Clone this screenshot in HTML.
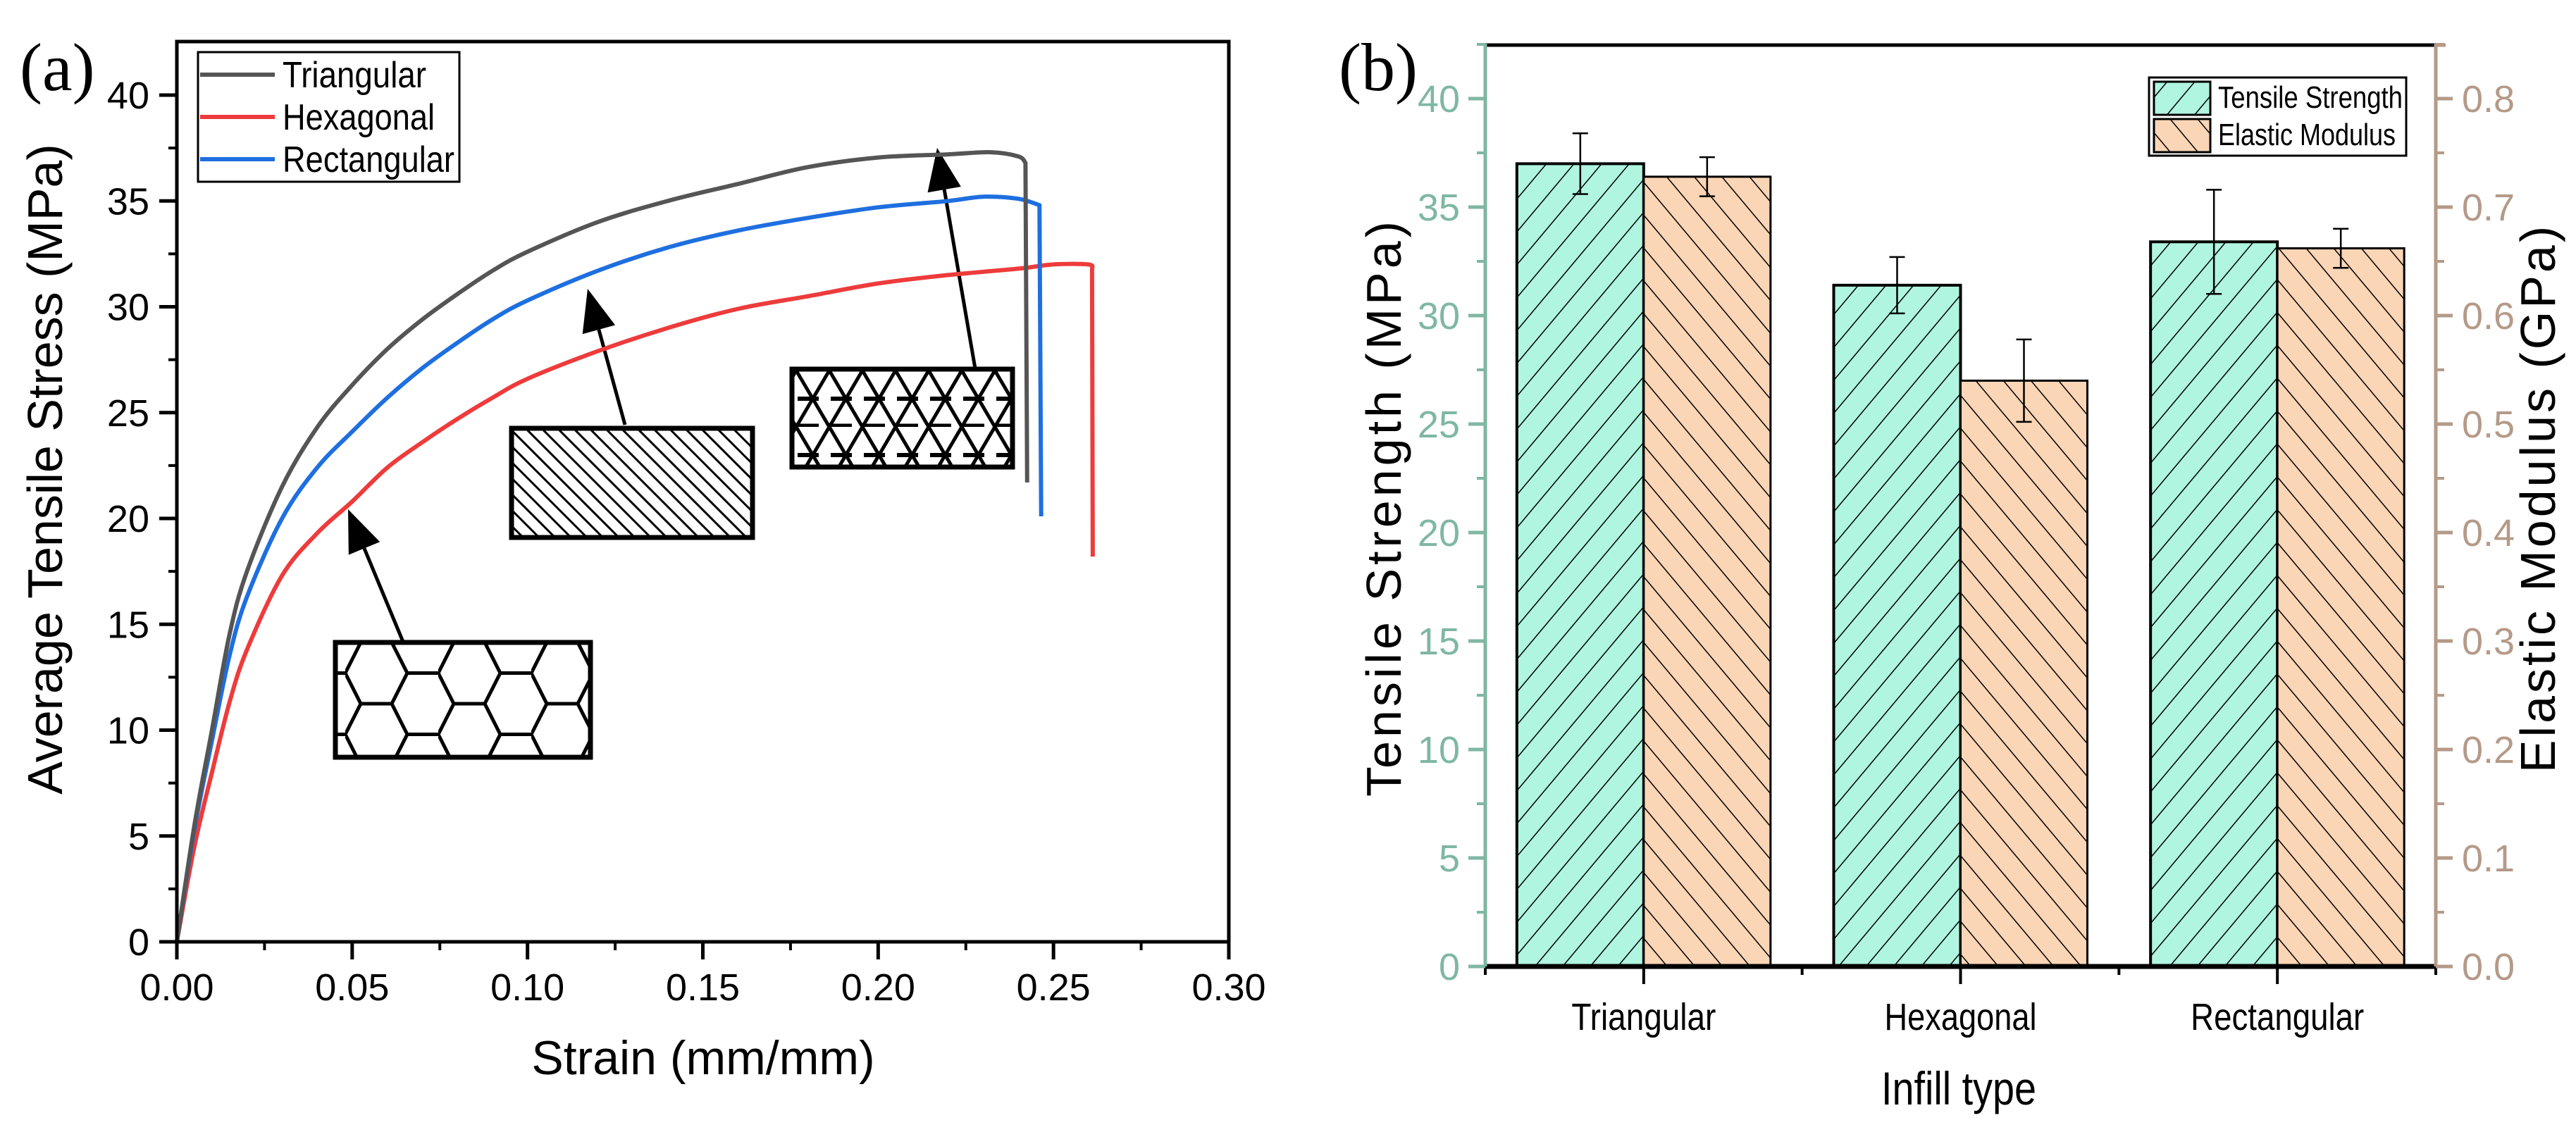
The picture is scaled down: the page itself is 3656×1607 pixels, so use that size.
<!DOCTYPE html>
<html><head><meta charset="utf-8"><style>
html,body{margin:0;padding:0;background:#fff;}
svg{display:block;}
text{font-family:"Liberation Sans",sans-serif;}
</style></head><body>
<svg id="fig" width="3656" height="1607" viewBox="0 0 3656 1607" xmlns="http://www.w3.org/2000/svg">
<defs>
<pattern id="hexpat" patternUnits="userSpaceOnUse" x="490" y="912" width="132" height="87">
<path d="M0,43.5 L22,0 L66,0 L88,43.5 L66,87 L22,87 Z M88,43.5 L132,43.5" fill="none" stroke="#000" stroke-width="5"/>
</pattern>
<pattern id="diagpat" patternUnits="userSpaceOnUse" width="16" height="16" patternTransform="rotate(-45)">
<line x1="0" y1="0" x2="0" y2="16" stroke="#000" stroke-width="6"/>
</pattern>
<pattern id="tripat" patternUnits="userSpaceOnUse" x="1130" y="526" width="47" height="80">
<path d="M0,0 L47,80 M47,0 L0,80" fill="none" stroke="#000" stroke-width="5"/>
<line x1="2" y1="40" x2="45" y2="40" stroke="#000" stroke-width="6" stroke-dasharray="30 17"/>
<line x1="2" y1="78" x2="45" y2="78" stroke="#000" stroke-width="5" stroke-dasharray="30 17"/>
</pattern>
<pattern id="hatchF" patternUnits="userSpaceOnUse" width="30" height="30" patternTransform="rotate(40)">
<line x1="0" y1="0" x2="0" y2="30" stroke="#000" stroke-width="3"/>
</pattern>
<pattern id="hatchB" patternUnits="userSpaceOnUse" width="30" height="30" patternTransform="rotate(-40)">
<line x1="0" y1="0" x2="0" y2="30" stroke="#000" stroke-width="3"/>
</pattern>
</defs>
<g id="pa"></g>
<g id="pb"></g>
</svg>
<script>
// ---------- Chart (a) data ----------
const triX = [0,0.005,0.01,0.015,0.02,0.03,0.04,0.05,0.06,0.07,0.08,0.09,0.10,0.12,0.14,0.16,0.18,0.20,0.22,0.232,0.24,0.242,0.2425];
const triY = [0,5.5,10,14.5,17.5,21.5,24.3,26.3,28,29.4,30.6,31.7,32.6,34,35,35.8,36.6,37.05,37.2,37.3,37.1,36.8,21.7];
const rectX = [0,0.005,0.01,0.015,0.02,0.03,0.04,0.05,0.06,0.07,0.08,0.09,0.10,0.12,0.14,0.16,0.18,0.20,0.22,0.23,0.24,0.246,0.2465];
const rectY = [0,5.3,9.5,13.5,16.3,20,22.4,24.1,25.7,27.1,28.3,29.4,30.3,31.7,32.8,33.6,34.2,34.7,35,35.2,35.1,34.8,20.1];
const hexX = [0,0.005,0.01,0.015,0.02,0.03,0.04,0.05,0.06,0.07,0.08,0.09,0.10,0.12,0.14,0.16,0.18,0.20,0.22,0.24,0.25,0.26,0.261,0.2612];
const hexY = [0,4.5,8,11.3,13.8,17.3,19.3,20.8,22.4,23.6,24.7,25.7,26.6,27.9,29,29.9,30.5,31.1,31.5,31.8,32,32,31.8,18.2];
const aXTicks = [0,0.05,0.10,0.15,0.20,0.25,0.30];
const aXLabels = ["0.00","0.05","0.10","0.15","0.20","0.25","0.30"];
const aYTicks = [0,5,10,15,20,25,30,35,40];
// ---------- Chart (b) data ----------
const categories = ["Triangular","Hexagonal","Rectangular"];
const tensile = [37.0,31.4,33.4];
const tensileErr = [1.4,1.3,2.4];
const modulus = [0.728,0.54,0.662];
const modulusErr = [0.018,0.038,0.018];
const bLeftTicks = [0,5,10,15,20,25,30,35,40];
const bRightTicks = [0,0.1,0.2,0.3,0.4,0.5,0.6,0.7,0.8];

const NS="http://www.w3.org/2000/svg";
function mk(parent,tag,attrs,txt){const e=document.createElementNS(NS,tag);for(const k in attrs)e.setAttribute(k,attrs[k]);if(txt!==undefined)e.textContent=txt;parent.appendChild(e);return e;}

// ===== Chart (a) =====
const pa=document.getElementById('pa');
const ax0=251,ax1=1744,ay0=1337,ayTop=59;
const xa=v=>ax0+(v/0.30)*(ax1-ax0);
const ya=v=>ay0-(v/40)*(ay0-135);
let r;
r=mk(pa,'rect',{x:476,y:912,width:362,height:163,fill:'url(#hexpat)',stroke:'#000','stroke-width':7});


r=mk(pa,'rect',{x:726,y:608,width:342,height:155,fill:'url(#diagpat)',stroke:'#000','stroke-width':7});


r=mk(pa,'rect',{x:1124,y:524,width:313,height:139,fill:'url(#tripat)',stroke:'#000','stroke-width':7});


function arrow(x1,y1,x2,y2,name){const g=mk(pa,'g',{});


const dx=x2-x1,dy=y2-y1,L=Math.hypot(dx,dy),ux=dx/L,uy=dy/L,h=60,w=24;
const bx=x2-ux*h,by=y2-uy*h;
mk(g,'line',{x1:x1,y1:y1,x2:bx,y2:by,stroke:'#000','stroke-width':5});
mk(g,'polygon',{points:`${x2},${y2} ${bx-uy*w},${by+ux*w} ${bx+uy*w},${by-ux*w}`,fill:'#000'});}
arrow(572,911,494,723,'hexagonal-arrow');
arrow(887,603,834,410,'rectangular-arrow');
arrow(1384,523,1330,210,'triangular-arrow');
function curve(xs,ys,color,name){
const P=xs.map((x,i)=>[xa(x),ya(ys[i])]);const n=P.length;
let d='M'+P[0][0].toFixed(1)+','+P[0][1].toFixed(1);
for(let i=0;i<n-2;i++){const p0=P[Math.max(i-1,0)],p1=P[i],p2=P[i+1],p3=P[Math.min(i+2,n-2)];
const c1=[p1[0]+(p2[0]-p0[0])/6,p1[1]+(p2[1]-p0[1])/6],c2=[p2[0]-(p3[0]-p1[0])/6,p2[1]-(p3[1]-p1[1])/6];
d+=` C${c1[0].toFixed(1)},${c1[1].toFixed(1)} ${c2[0].toFixed(1)},${c2[1].toFixed(1)} ${p2[0].toFixed(1)},${p2[1].toFixed(1)}`;}
d+=` L${P[n-1][0].toFixed(1)},${P[n-1][1].toFixed(1)}`;
const p=mk(pa,'path',{d:d,fill:'none',stroke:color,'stroke-width':6,'stroke-linejoin':'round'});

}
curve(hexX,hexY,'#ee3b3b','hexagonal-curve');
curve(rectX,rectY,'#1e6fe0','rectangular-curve');
curve(triX,triY,'#555555','triangular-curve');
r=mk(pa,'rect',{x:ax0,y:ayTop,width:ax1-ax0,height:ay0-ayTop,fill:'none',stroke:'#000','stroke-width':5});


aXTicks.forEach((v,i)=>{mk(pa,'line',{x1:xa(v),y1:ay0,x2:xa(v),y2:ay0+25,stroke:'#000','stroke-width':5});
if(i<aXTicks.length-1)mk(pa,'line',{x1:xa(v+0.025),y1:ay0,x2:xa(v+0.025),y2:ay0+12,stroke:'#000','stroke-width':4});
const t=mk(pa,'text',{x:xa(v),y:1420,'font-size':54,'text-anchor':'middle'},aXLabels[i]);

});
aYTicks.forEach((v,i)=>{mk(pa,'line',{x1:ax0,y1:ya(v),x2:ax0-25,y2:ya(v),stroke:'#000','stroke-width':5});
if(i<aYTicks.length-1)mk(pa,'line',{x1:ax0,y1:ya(v+2.5),x2:ax0-12,y2:ya(v+2.5),stroke:'#000','stroke-width':4});
const t=mk(pa,'text',{x:212,y:ya(v)+19,'font-size':54,'text-anchor':'end'},String(v));

});
let t;
t=mk(pa,'text',{x:998,y:1525,'font-size':68,'text-anchor':'middle'},'Strain (mm/mm)');


t=mk(pa,'text',{x:0,y:0,'font-size':70,'text-anchor':'middle',transform:'translate(88,666) rotate(-90)'},'Average Tensile Stress (MPa)');


t=mk(pa,'text',{x:28,y:128,'font-size':96,style:'font-family:"Liberation Serif",serif'},'(a)');


const lg=mk(pa,'g',{});


mk(lg,'rect',{x:281,y:74,width:371,height:184,fill:'#fff',stroke:'#000','stroke-width':3});
[['Triangular','#555555',106,204],['Hexagonal','#ee3b3b',166,216],['Rectangular','#1e6fe0',226,244]].forEach(([n,c,yy,w])=>{
const e=mk(lg,'g',{});


mk(e,'line',{x1:284,y1:yy,x2:390,y2:yy,stroke:c,'stroke-width':6});
mk(e,'text',{x:401,y:yy+18,'font-size':52,textLength:w,lengthAdjust:'spacingAndGlyphs'},n);});

// ===== Chart (b) =====
const pb=document.getElementById('pb');
const bx0=2108,bx1=3457,by0=1372,byTop=64;
const band=(bx1-bx0)/categories.length, bw=180;
const yb=v=>by0-(v/40)*(by0-140);
const yr=v=>by0-(v/0.8)*(by0-140);
const catW=[205,216,246];
categories.forEach((c,i)=>{const cx=bx0+band*(i+0.5);
let b=mk(pb,'rect',{x:cx-bw,y:yb(tensile[i]),width:bw,height:by0-yb(tensile[i]),fill:'#b0f5e0'});


mk(pb,'rect',{x:cx-bw,y:yb(tensile[i]),width:bw,height:by0-yb(tensile[i]),fill:'url(#hatchF)',stroke:'#000','stroke-width':4});
b=mk(pb,'rect',{x:cx,y:yr(modulus[i]),width:bw,height:by0-yr(modulus[i]),fill:'#fad5b6'});


mk(pb,'rect',{x:cx,y:yr(modulus[i]),width:bw,height:by0-yr(modulus[i]),fill:'url(#hatchB)',stroke:'#000','stroke-width':3});
function err(x,top,bot,name){const g=mk(pb,'g',{stroke:'#000','stroke-width':2.5});


mk(g,'line',{x1:x,y1:top,x2:x,y2:bot});mk(g,'line',{x1:x-11,y1:top,x2:x+11,y2:top});mk(g,'line',{x1:x-11,y1:bot,x2:x+11,y2:bot});}
err(cx-bw/2,yb(tensile[i]+tensileErr[i]),yb(tensile[i]-tensileErr[i]),'error-bar-tensile');
err(cx+bw/2,yr(modulus[i]+modulusErr[i]),yr(modulus[i]-modulusErr[i]),'error-bar-modulus');
mk(pb,'line',{x1:cx,y1:by0,x2:cx,y2:by0+25,stroke:'#000','stroke-width':4});
mk(pb,'line',{x1:bx0+band*i,y1:by0,x2:bx0+band*i,y2:by0+12,stroke:'#000','stroke-width':4});
const tl=mk(pb,'text',{x:cx,y:1462,'font-size':54,'text-anchor':'middle',textLength:catW[i],lengthAdjust:'spacingAndGlyphs'},c);

});
mk(pb,'line',{x1:bx1,y1:by0,x2:bx1,y2:by0+12,stroke:'#000','stroke-width':4});
mk(pb,'line',{x1:bx0,y1:byTop,x2:bx1,y2:byTop,stroke:'#000','stroke-width':5});
mk(pb,'line',{x1:bx0,y1:by0,x2:bx1,y2:by0,stroke:'#000','stroke-width':7});
let ln=mk(pb,'line',{x1:bx0,y1:byTop-2,x2:bx0,y2:by0,stroke:'#7fb7a3','stroke-width':5});


ln=mk(pb,'line',{x1:bx1,y1:byTop-2,x2:bx1,y2:by0,stroke:'#b49a88','stroke-width':5});


mk(pb,'line',{x1:bx1,y1:byTop,x2:bx1+14,y2:byTop,stroke:'#b49a88','stroke-width':5});
bLeftTicks.forEach((v,i)=>{mk(pb,'line',{x1:bx0,y1:yb(v),x2:bx0-24,y2:yb(v),stroke:'#7fb7a3','stroke-width':5});
mk(pb,'line',{x1:bx0,y1:yb(v+2.5),x2:bx0-12,y2:yb(v+2.5),stroke:'#7fb7a3','stroke-width':4});
const tl=mk(pb,'text',{x:2072,y:yb(v)+19,'font-size':54,'text-anchor':'end',fill:'#7fb7a3'},String(v));

});
bRightTicks.forEach((v,i)=>{mk(pb,'line',{x1:bx1,y1:yr(v),x2:bx1+24,y2:yr(v),stroke:'#b49a88','stroke-width':5});
mk(pb,'line',{x1:bx1,y1:yr(v+0.05),x2:bx1+12,y2:yr(v+0.05),stroke:'#b49a88','stroke-width':4});
const tl=mk(pb,'text',{x:3494,y:yr(v)+19,'font-size':54,fill:'#b49a88'},v.toFixed(1));

});
t=mk(pb,'text',{x:2780,y:1568,'font-size':66,'text-anchor':'middle',textLength:220,lengthAdjust:'spacingAndGlyphs'},'Infill type');


t=mk(pb,'text',{x:0,y:0,'font-size':70,'text-anchor':'middle','letter-spacing':5,transform:'translate(1988,720) rotate(-90)'},'Tensile Strength (MPa)');


t=mk(pb,'text',{x:0,y:0,'font-size':70,'text-anchor':'middle','letter-spacing':4,transform:'translate(3626,707) rotate(-90)'},'Elastic Modulus (GPa)');


t=mk(pb,'text',{x:1900,y:128,'font-size':96,style:'font-family:"Liberation Serif",serif'},'(b)');


const lb=mk(pb,'g',{});


mk(lb,'rect',{x:3050,y:110,width:365,height:111,fill:'#fff',stroke:'#000','stroke-width':3});
[['Tensile Strength','#b0f5e0','hatchF',116,262],['Elastic Modulus','#fad5b6','hatchB',169,252]].forEach(([n,c,h,yy,w])=>{
const e=mk(lb,'g',{});


mk(e,'rect',{x:3057,y:yy,width:80,height:47,fill:c});
mk(e,'rect',{x:3057,y:yy,width:80,height:47,fill:'url(#'+h+')',stroke:'#000','stroke-width':3});
mk(e,'text',{x:3148,y:yy+37,'font-size':44,textLength:w,lengthAdjust:'spacingAndGlyphs'},n);});
</script>
</body></html>
